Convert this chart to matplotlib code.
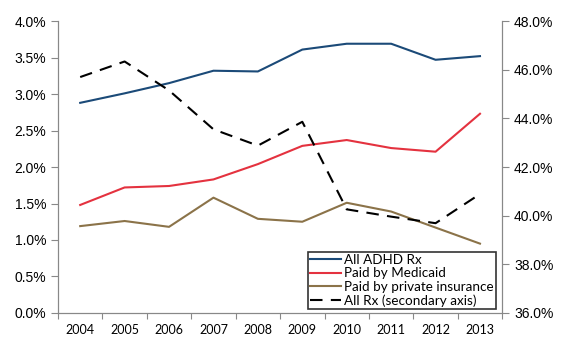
import matplotlib.pyplot as plt
import numpy as np
from matplotlib.ticker import FuncFormatter

plt.rc('font', family=['Liberation Sans', 'DejaVu Sans'], size=9)

years = ['2004', '2005', '2006', '2007', '2008', '2009', '2010', '2011', '2012', '2013']
all_adhd = [2.88, 3.01, 3.15, 3.32, 3.31, 3.61, 3.69, 3.69, 3.47, 3.52]
medicaid = [1.48, 1.72, 1.74, 1.83, 2.04, 2.29, 2.37, 2.26, 2.21, 2.73]
private = [1.19, 1.26, 1.18, 1.58, 1.29, 1.25, 1.51, 1.39, 1.17, 0.95]
all_rx = [45.70, 46.34, 45.15, 43.55, 42.88, 43.86, 40.26, 39.96, 39.69, 40.89]

x = np.arange(len(years))
spine_c = '#888888'

fig = plt.figure(figsize=(5.63, 3.52), dpi=100)
ax = fig.add_axes([0.103, 0.111, 0.789, 0.829])
ax2 = ax.twinx()

l1, = ax.plot(x, all_adhd, color='#1b4a78', lw=1.5, label='All ADHD Rx')
l2, = ax.plot(x, medicaid, color='#e4323f', lw=1.5, label='Paid by Medicaid')
l3, = ax.plot(x, private, color='#8b7349', lw=1.5, label='Paid by private insurance')
l4, = ax2.plot(x, all_rx, color='black', lw=1.5, dashes=(6, 4), label='All Rx (secondary axis)')

ax.set_xlim(-0.5, len(years) - 0.5)
ax.set_ylim(0, 4.0)
ax2.set_ylim(36, 48)
ax.set_yticks(np.arange(0, 4.01, 0.5))
ax2.set_yticks(np.arange(36, 48.1, 2))
ax.yaxis.set_major_formatter(FuncFormatter(lambda v, p: '%.1f%%' % v))
ax2.yaxis.set_major_formatter(FuncFormatter(lambda v, p: '%.1f%%' % v))

# category labels between tick marks
ax.set_xticks(np.arange(-0.5, len(years), 1))
ax.set_xticklabels([])
ax.set_xticks(x, minor=True)
ax.set_xticklabels(years, minor=True, family=['Lato', 'DejaVu Sans'], fontsize=9)
ax.tick_params(axis='x', which='minor', length=0, pad=8)
ax.tick_params(axis='x', which='major', length=4, color=spine_c, direction='out')
ax.tick_params(axis='y', length=5, color=spine_c, labelsize=10)
ax2.tick_params(axis='y', length=5, color=spine_c, labelsize=10)

for a in (ax, ax2):
    a.spines['top'].set_visible(False)
    for s in ('left', 'right', 'bottom'):
        a.spines[s].set_color(spine_c)

leg = ax2.legend(handles=[l1, l2, l3, l4], loc='lower right', bbox_to_anchor=(0.985, 0.015),
                 prop={'family': ['Lato', 'DejaVu Sans'], 'size': 9.7},
                 frameon=True, fancybox=False, edgecolor='black', borderpad=0.15,
                 labelspacing=0.1, handlelength=2.3, handletextpad=0.2, borderaxespad=0)
leg.get_frame().set_linewidth(1.2)

fig.savefig('out.png', dpi=100)
